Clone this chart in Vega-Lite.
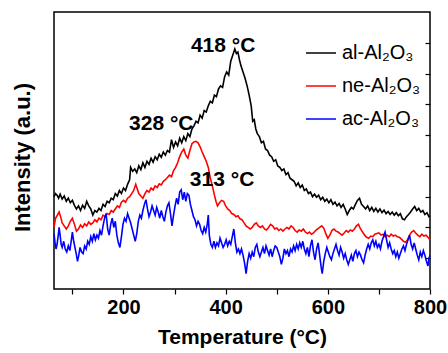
{
"$schema": "https://vega.github.io/schema/vega-lite/v6.json",
"width": 376, "height": 277,
"autosize": "none",
"padding": {"left": 54, "top": 12, "right": 18, "bottom": 64},
"config": {"font": "Liberation Sans", "view": {"stroke": "black", "strokeWidth": 1.5}},
"resolve": {"axis": {"y": "independent"}},
"layer": [
{
"data": {"values": [
{"s":"al","T":64,"I":3.0},{"s":"al","T":67,"I":3.1},{"s":"al","T":70,"I":3.05},{"s":"al","T":73,"I":2.95},{"s":"al","T":76,"I":3.08},{"s":"al","T":80,"I":2.92},{"s":"al","T":84,"I":3.02},{"s":"al","T":88,"I":2.85},{"s":"al","T":92,"I":2.95},{"s":"al","T":96,"I":2.8},{"s":"al","T":100,"I":2.88},{"s":"al","T":104,"I":2.72},{"s":"al","T":108,"I":2.6},{"s":"al","T":112,"I":2.7},{"s":"al","T":116,"I":2.55},{"s":"al","T":120,"I":2.72},{"s":"al","T":124,"I":2.62},{"s":"al","T":128,"I":2.85},{"s":"al","T":132,"I":2.7},{"s":"al","T":136,"I":2.6},{"s":"al","T":140,"I":2.4},{"s":"al","T":144,"I":2.55},{"s":"al","T":148,"I":2.5},{"s":"al","T":152,"I":2.62},{"s":"al","T":156,"I":2.55},{"s":"al","T":160,"I":2.75},{"s":"al","T":164,"I":2.68},{"s":"al","T":168,"I":2.85},{"s":"al","T":172,"I":2.8},{"s":"al","T":176,"I":2.95},{"s":"al","T":180,"I":2.9},{"s":"al","T":184,"I":3.1},{"s":"al","T":188,"I":3.02},{"s":"al","T":192,"I":3.2},{"s":"al","T":196,"I":3.1},{"s":"al","T":200,"I":3.28},{"s":"al","T":204,"I":3.2},{"s":"al","T":208,"I":3.4},{"s":"al","T":212,"I":3.55},{"s":"al","T":214,"I":3.95},{"s":"al","T":218,"I":3.82},{"s":"al","T":222,"I":3.9},{"s":"al","T":226,"I":3.78},{"s":"al","T":230,"I":4.0},{"s":"al","T":234,"I":3.88},{"s":"al","T":238,"I":4.1},{"s":"al","T":242,"I":3.95},{"s":"al","T":246,"I":4.15},{"s":"al","T":250,"I":4.05},{"s":"al","T":254,"I":4.25},{"s":"al","T":258,"I":4.12},{"s":"al","T":262,"I":4.3},{"s":"al","T":266,"I":4.2},{"s":"al","T":270,"I":4.38},{"s":"al","T":274,"I":4.28},{"s":"al","T":278,"I":4.45},{"s":"al","T":282,"I":4.35},{"s":"al","T":286,"I":4.5},{"s":"al","T":290,"I":4.45},{"s":"al","T":294,"I":4.85},{"s":"al","T":298,"I":4.6},{"s":"al","T":302,"I":4.78},{"s":"al","T":306,"I":4.65},{"s":"al","T":310,"I":4.9},{"s":"al","T":314,"I":4.75},{"s":"al","T":318,"I":4.95},{"s":"al","T":322,"I":4.82},{"s":"al","T":326,"I":5.05},{"s":"al","T":330,"I":4.95},{"s":"al","T":334,"I":5.2},{"s":"al","T":338,"I":5.3},{"s":"al","T":342,"I":5.45},{"s":"al","T":346,"I":5.4},{"s":"al","T":350,"I":5.65},{"s":"al","T":354,"I":5.55},{"s":"al","T":358,"I":5.8},{"s":"al","T":362,"I":5.75},{"s":"al","T":366,"I":5.95},{"s":"al","T":370,"I":6.1},{"s":"al","T":374,"I":6.05},{"s":"al","T":378,"I":6.3},{"s":"al","T":382,"I":6.25},{"s":"al","T":386,"I":6.5},{"s":"al","T":390,"I":6.6},{"s":"al","T":394,"I":6.55},{"s":"al","T":398,"I":6.9},{"s":"al","T":402,"I":7.05},{"s":"al","T":406,"I":6.95},{"s":"al","T":410,"I":7.4},{"s":"al","T":414,"I":7.6},{"s":"al","T":418,"I":7.8},{"s":"al","T":421,"I":7.65},{"s":"al","T":424,"I":7.7},{"s":"al","T":427,"I":7.45},{"s":"al","T":430,"I":7.25},{"s":"al","T":434,"I":7.05},{"s":"al","T":438,"I":6.85},{"s":"al","T":442,"I":6.6},{"s":"al","T":446,"I":6.3},{"s":"al","T":450,"I":5.95},{"s":"al","T":453,"I":5.45},{"s":"al","T":456,"I":5.5},{"s":"al","T":459,"I":5.2},{"s":"al","T":462,"I":5.05},{"s":"al","T":466,"I":4.95},{"s":"al","T":470,"I":4.75},{"s":"al","T":474,"I":4.8},{"s":"al","T":478,"I":4.55},{"s":"al","T":482,"I":4.5},{"s":"al","T":486,"I":4.35},{"s":"al","T":490,"I":4.3},{"s":"al","T":494,"I":4.15},{"s":"al","T":498,"I":4.2},{"s":"al","T":502,"I":4.0},{"s":"al","T":506,"I":3.95},{"s":"al","T":510,"I":3.85},{"s":"al","T":514,"I":3.9},{"s":"al","T":518,"I":3.72},{"s":"al","T":522,"I":3.78},{"s":"al","T":526,"I":3.6},{"s":"al","T":530,"I":3.55},{"s":"al","T":534,"I":3.5},{"s":"al","T":538,"I":3.35},{"s":"al","T":542,"I":3.45},{"s":"al","T":546,"I":3.3},{"s":"al","T":550,"I":3.38},{"s":"al","T":554,"I":3.2},{"s":"al","T":558,"I":3.25},{"s":"al","T":562,"I":3.1},{"s":"al","T":566,"I":3.15},{"s":"al","T":570,"I":3.0},{"s":"al","T":574,"I":3.08},{"s":"al","T":578,"I":2.98},{"s":"al","T":582,"I":3.05},{"s":"al","T":586,"I":2.9},{"s":"al","T":590,"I":2.98},{"s":"al","T":594,"I":2.85},{"s":"al","T":598,"I":2.92},{"s":"al","T":602,"I":2.8},{"s":"al","T":606,"I":2.9},{"s":"al","T":610,"I":2.75},{"s":"al","T":614,"I":2.82},{"s":"al","T":618,"I":2.7},{"s":"al","T":622,"I":2.78},{"s":"al","T":626,"I":2.65},{"s":"al","T":630,"I":2.75},{"s":"al","T":634,"I":2.6},{"s":"al","T":638,"I":2.42},{"s":"al","T":642,"I":2.55},{"s":"al","T":646,"I":2.65},{"s":"al","T":650,"I":2.6},{"s":"al","T":654,"I":2.75},{"s":"al","T":658,"I":2.88},{"s":"al","T":662,"I":2.95},{"s":"al","T":666,"I":2.75},{"s":"al","T":670,"I":2.68},{"s":"al","T":674,"I":2.6},{"s":"al","T":678,"I":2.7},{"s":"al","T":682,"I":2.55},{"s":"al","T":686,"I":2.65},{"s":"al","T":690,"I":2.52},{"s":"al","T":694,"I":2.62},{"s":"al","T":698,"I":2.5},{"s":"al","T":702,"I":2.6},{"s":"al","T":706,"I":2.48},{"s":"al","T":710,"I":2.56},{"s":"al","T":714,"I":2.45},{"s":"al","T":718,"I":2.52},{"s":"al","T":722,"I":2.42},{"s":"al","T":726,"I":2.5},{"s":"al","T":730,"I":2.4},{"s":"al","T":734,"I":2.48},{"s":"al","T":738,"I":2.38},{"s":"al","T":742,"I":2.45},{"s":"al","T":746,"I":2.28},{"s":"al","T":750,"I":2.25},{"s":"al","T":754,"I":2.35},{"s":"al","T":758,"I":2.42},{"s":"al","T":762,"I":2.5},{"s":"al","T":766,"I":2.6},{"s":"al","T":770,"I":2.68},{"s":"al","T":774,"I":2.55},{"s":"al","T":778,"I":2.62},{"s":"al","T":782,"I":2.5},{"s":"al","T":786,"I":2.55},{"s":"al","T":790,"I":2.42},{"s":"al","T":794,"I":2.48},{"s":"al","T":798,"I":2.35},{"s":"al","T":800,"I":2.38},
{"s":"ne","T":64,"I":2.0},{"s":"ne","T":67,"I":2.3},{"s":"ne","T":70,"I":2.38},{"s":"ne","T":74,"I":2.5},{"s":"ne","T":77,"I":2.35},{"s":"ne","T":80,"I":2.15},{"s":"ne","T":84,"I":2.05},{"s":"ne","T":88,"I":1.95},{"s":"ne","T":92,"I":2.05},{"s":"ne","T":96,"I":2.2},{"s":"ne","T":100,"I":2.3},{"s":"ne","T":104,"I":2.1},{"s":"ne","T":108,"I":1.88},{"s":"ne","T":112,"I":1.95},{"s":"ne","T":116,"I":2.08},{"s":"ne","T":120,"I":2.0},{"s":"ne","T":124,"I":2.12},{"s":"ne","T":128,"I":2.05},{"s":"ne","T":132,"I":2.18},{"s":"ne","T":136,"I":2.1},{"s":"ne","T":140,"I":2.15},{"s":"ne","T":144,"I":2.25},{"s":"ne","T":148,"I":2.18},{"s":"ne","T":152,"I":2.3},{"s":"ne","T":156,"I":2.25},{"s":"ne","T":160,"I":2.4},{"s":"ne","T":164,"I":2.35},{"s":"ne","T":168,"I":2.45},{"s":"ne","T":172,"I":2.42},{"s":"ne","T":176,"I":2.55},{"s":"ne","T":180,"I":2.5},{"s":"ne","T":184,"I":2.6},{"s":"ne","T":188,"I":2.7},{"s":"ne","T":192,"I":2.65},{"s":"ne","T":196,"I":2.82},{"s":"ne","T":200,"I":2.88},{"s":"ne","T":204,"I":2.82},{"s":"ne","T":208,"I":2.95},{"s":"ne","T":212,"I":3.0},{"s":"ne","T":216,"I":3.1},{"s":"ne","T":220,"I":3.2},{"s":"ne","T":224,"I":3.4},{"s":"ne","T":227,"I":3.25},{"s":"ne","T":230,"I":3.1},{"s":"ne","T":234,"I":3.02},{"s":"ne","T":238,"I":2.95},{"s":"ne","T":242,"I":3.1},{"s":"ne","T":246,"I":3.2},{"s":"ne","T":250,"I":3.15},{"s":"ne","T":254,"I":3.28},{"s":"ne","T":258,"I":3.22},{"s":"ne","T":262,"I":3.35},{"s":"ne","T":266,"I":3.3},{"s":"ne","T":270,"I":3.42},{"s":"ne","T":274,"I":3.38},{"s":"ne","T":278,"I":3.5},{"s":"ne","T":282,"I":3.55},{"s":"ne","T":286,"I":3.62},{"s":"ne","T":290,"I":3.7},{"s":"ne","T":294,"I":3.65},{"s":"ne","T":298,"I":3.85},{"s":"ne","T":302,"I":3.95},{"s":"ne","T":306,"I":4.1},{"s":"ne","T":310,"I":4.3},{"s":"ne","T":314,"I":4.45},{"s":"ne","T":318,"I":4.55},{"s":"ne","T":322,"I":4.35},{"s":"ne","T":326,"I":4.25},{"s":"ne","T":330,"I":4.5},{"s":"ne","T":334,"I":4.72},{"s":"ne","T":338,"I":4.78},{"s":"ne","T":342,"I":4.8},{"s":"ne","T":346,"I":4.75},{"s":"ne","T":350,"I":4.62},{"s":"ne","T":354,"I":4.45},{"s":"ne","T":358,"I":4.3},{"s":"ne","T":362,"I":4.15},{"s":"ne","T":366,"I":3.95},{"s":"ne","T":370,"I":3.6},{"s":"ne","T":374,"I":3.35},{"s":"ne","T":378,"I":3.05},{"s":"ne","T":381,"I":2.85},{"s":"ne","T":384,"I":2.7},{"s":"ne","T":388,"I":2.8},{"s":"ne","T":392,"I":2.88},{"s":"ne","T":396,"I":2.85},{"s":"ne","T":400,"I":2.7},{"s":"ne","T":404,"I":2.6},{"s":"ne","T":408,"I":2.55},{"s":"ne","T":412,"I":2.45},{"s":"ne","T":416,"I":2.42},{"s":"ne","T":420,"I":2.35},{"s":"ne","T":424,"I":2.38},{"s":"ne","T":428,"I":2.28},{"s":"ne","T":432,"I":2.25},{"s":"ne","T":436,"I":2.15},{"s":"ne","T":440,"I":2.05},{"s":"ne","T":444,"I":2.0},{"s":"ne","T":448,"I":1.95},{"s":"ne","T":452,"I":2.0},{"s":"ne","T":456,"I":2.1},{"s":"ne","T":460,"I":2.15},{"s":"ne","T":464,"I":2.05},{"s":"ne","T":468,"I":2.0},{"s":"ne","T":472,"I":2.05},{"s":"ne","T":476,"I":1.95},{"s":"ne","T":480,"I":1.92},{"s":"ne","T":484,"I":2.0},{"s":"ne","T":488,"I":2.1},{"s":"ne","T":492,"I":2.05},{"s":"ne","T":496,"I":1.95},{"s":"ne","T":500,"I":1.98},{"s":"ne","T":504,"I":1.9},{"s":"ne","T":508,"I":1.95},{"s":"ne","T":512,"I":1.88},{"s":"ne","T":516,"I":1.95},{"s":"ne","T":520,"I":2.0},{"s":"ne","T":524,"I":1.95},{"s":"ne","T":528,"I":2.05},{"s":"ne","T":532,"I":2.0},{"s":"ne","T":536,"I":1.9},{"s":"ne","T":540,"I":1.85},{"s":"ne","T":544,"I":1.92},{"s":"ne","T":548,"I":1.88},{"s":"ne","T":552,"I":1.95},{"s":"ne","T":556,"I":1.85},{"s":"ne","T":560,"I":1.8},{"s":"ne","T":564,"I":1.85},{"s":"ne","T":568,"I":1.78},{"s":"ne","T":572,"I":1.82},{"s":"ne","T":576,"I":1.9},{"s":"ne","T":580,"I":1.95},{"s":"ne","T":584,"I":2.0},{"s":"ne","T":588,"I":2.05},{"s":"ne","T":592,"I":1.98},{"s":"ne","T":596,"I":1.8},{"s":"ne","T":600,"I":1.65},{"s":"ne","T":604,"I":1.75},{"s":"ne","T":608,"I":1.9},{"s":"ne","T":612,"I":1.95},{"s":"ne","T":616,"I":1.88},{"s":"ne","T":620,"I":1.85},{"s":"ne","T":624,"I":1.8},{"s":"ne","T":628,"I":1.75},{"s":"ne","T":632,"I":1.82},{"s":"ne","T":636,"I":1.9},{"s":"ne","T":640,"I":1.85},{"s":"ne","T":644,"I":1.92},{"s":"ne","T":648,"I":1.88},{"s":"ne","T":652,"I":1.95},{"s":"ne","T":656,"I":2.05},{"s":"ne","T":660,"I":2.1},{"s":"ne","T":664,"I":1.95},{"s":"ne","T":668,"I":1.85},{"s":"ne","T":672,"I":1.75},{"s":"ne","T":676,"I":1.68},{"s":"ne","T":680,"I":1.65},{"s":"ne","T":684,"I":1.72},{"s":"ne","T":688,"I":1.7},{"s":"ne","T":692,"I":1.78},{"s":"ne","T":696,"I":1.8},{"s":"ne","T":700,"I":1.82},{"s":"ne","T":704,"I":1.75},{"s":"ne","T":708,"I":1.78},{"s":"ne","T":712,"I":1.7},{"s":"ne","T":716,"I":1.75},{"s":"ne","T":720,"I":1.7},{"s":"ne","T":724,"I":1.78},{"s":"ne","T":728,"I":1.72},{"s":"ne","T":732,"I":1.75},{"s":"ne","T":736,"I":1.7},{"s":"ne","T":740,"I":1.68},{"s":"ne","T":744,"I":1.62},{"s":"ne","T":748,"I":1.55},{"s":"ne","T":752,"I":1.52},{"s":"ne","T":756,"I":1.6},{"s":"ne","T":760,"I":1.75},{"s":"ne","T":764,"I":1.85},{"s":"ne","T":768,"I":1.9},{"s":"ne","T":772,"I":1.82},{"s":"ne","T":776,"I":1.75},{"s":"ne","T":780,"I":1.7},{"s":"ne","T":784,"I":1.78},{"s":"ne","T":788,"I":1.72},{"s":"ne","T":792,"I":1.75},{"s":"ne","T":796,"I":1.68},{"s":"ne","T":800,"I":1.6},
{"s":"ac","T":64,"I":1.8},{"s":"ac","T":66,"I":1.5},{"s":"ac","T":68,"I":1.3},{"s":"ac","T":70,"I":1.45},{"s":"ac","T":72,"I":1.7},{"s":"ac","T":74,"I":2.0},{"s":"ac","T":76,"I":1.75},{"s":"ac","T":78,"I":1.45},{"s":"ac","T":80,"I":1.35},{"s":"ac","T":83,"I":1.55},{"s":"ac","T":86,"I":1.3},{"s":"ac","T":89,"I":1.2},{"s":"ac","T":92,"I":1.4},{"s":"ac","T":95,"I":1.25},{"s":"ac","T":98,"I":1.6},{"s":"ac","T":100,"I":1.85},{"s":"ac","T":102,"I":1.6},{"s":"ac","T":105,"I":1.35},{"s":"ac","T":108,"I":1.1},{"s":"ac","T":110,"I":0.9},{"s":"ac","T":112,"I":1.05},{"s":"ac","T":115,"I":1.35},{"s":"ac","T":118,"I":1.2},{"s":"ac","T":121,"I":1.15},{"s":"ac","T":124,"I":1.4},{"s":"ac","T":127,"I":1.3},{"s":"ac","T":130,"I":1.55},{"s":"ac","T":133,"I":1.45},{"s":"ac","T":136,"I":1.7},{"s":"ac","T":139,"I":1.55},{"s":"ac","T":142,"I":1.8},{"s":"ac","T":145,"I":1.6},{"s":"ac","T":148,"I":1.75},{"s":"ac","T":151,"I":1.65},{"s":"ac","T":154,"I":1.9},{"s":"ac","T":157,"I":1.75},{"s":"ac","T":160,"I":2.05},{"s":"ac","T":163,"I":2.3},{"s":"ac","T":166,"I":2.45},{"s":"ac","T":169,"I":1.95},{"s":"ac","T":172,"I":1.75},{"s":"ac","T":175,"I":2.1},{"s":"ac","T":178,"I":2.3},{"s":"ac","T":181,"I":2.0},{"s":"ac","T":184,"I":2.2},{"s":"ac","T":187,"I":1.75},{"s":"ac","T":190,"I":1.5},{"s":"ac","T":193,"I":1.35},{"s":"ac","T":196,"I":1.7},{"s":"ac","T":199,"I":2.1},{"s":"ac","T":202,"I":2.3},{"s":"ac","T":205,"I":2.2},{"s":"ac","T":208,"I":2.45},{"s":"ac","T":211,"I":2.3},{"s":"ac","T":214,"I":2.15},{"s":"ac","T":217,"I":1.95},{"s":"ac","T":220,"I":1.75},{"s":"ac","T":223,"I":1.55},{"s":"ac","T":226,"I":1.8},{"s":"ac","T":229,"I":2.2},{"s":"ac","T":232,"I":2.4},{"s":"ac","T":235,"I":2.3},{"s":"ac","T":238,"I":2.55},{"s":"ac","T":241,"I":2.75},{"s":"ac","T":244,"I":2.9},{"s":"ac","T":247,"I":2.6},{"s":"ac","T":250,"I":2.35},{"s":"ac","T":253,"I":2.5},{"s":"ac","T":256,"I":2.7},{"s":"ac","T":259,"I":2.55},{"s":"ac","T":262,"I":2.4},{"s":"ac","T":265,"I":2.65},{"s":"ac","T":268,"I":2.5},{"s":"ac","T":271,"I":2.3},{"s":"ac","T":274,"I":2.55},{"s":"ac","T":277,"I":2.35},{"s":"ac","T":280,"I":2.2},{"s":"ac","T":283,"I":2.5},{"s":"ac","T":286,"I":2.7},{"s":"ac","T":289,"I":2.8},{"s":"ac","T":292,"I":2.45},{"s":"ac","T":295,"I":2.05},{"s":"ac","T":298,"I":2.4},{"s":"ac","T":301,"I":2.7},{"s":"ac","T":304,"I":2.95},{"s":"ac","T":307,"I":2.75},{"s":"ac","T":310,"I":3.15},{"s":"ac","T":313,"I":3.22},{"s":"ac","T":316,"I":2.9},{"s":"ac","T":319,"I":3.15},{"s":"ac","T":322,"I":2.85},{"s":"ac","T":325,"I":3.1},{"s":"ac","T":328,"I":3.05},{"s":"ac","T":331,"I":2.75},{"s":"ac","T":334,"I":2.55},{"s":"ac","T":337,"I":2.35},{"s":"ac","T":340,"I":2.25},{"s":"ac","T":343,"I":2.05},{"s":"ac","T":346,"I":2.2},{"s":"ac","T":349,"I":2.1},{"s":"ac","T":352,"I":1.9},{"s":"ac","T":355,"I":1.8},{"s":"ac","T":358,"I":2.0},{"s":"ac","T":361,"I":1.85},{"s":"ac","T":364,"I":2.1},{"s":"ac","T":366,"I":2.4},{"s":"ac","T":368,"I":1.75},{"s":"ac","T":371,"I":1.45},{"s":"ac","T":374,"I":1.35},{"s":"ac","T":377,"I":1.55},{"s":"ac","T":380,"I":1.35},{"s":"ac","T":383,"I":1.5},{"s":"ac","T":386,"I":1.4},{"s":"ac","T":389,"I":1.65},{"s":"ac","T":392,"I":1.5},{"s":"ac","T":395,"I":1.35},{"s":"ac","T":398,"I":1.45},{"s":"ac","T":401,"I":1.6},{"s":"ac","T":404,"I":1.4},{"s":"ac","T":407,"I":1.55},{"s":"ac","T":410,"I":1.45},{"s":"ac","T":413,"I":1.7},{"s":"ac","T":416,"I":1.95},{"s":"ac","T":419,"I":1.5},{"s":"ac","T":422,"I":1.2},{"s":"ac","T":425,"I":1.3},{"s":"ac","T":428,"I":1.15},{"s":"ac","T":431,"I":1.3},{"s":"ac","T":434,"I":1.1},{"s":"ac","T":437,"I":0.85},{"s":"ac","T":440,"I":0.5},{"s":"ac","T":443,"I":0.9},{"s":"ac","T":446,"I":1.15},{"s":"ac","T":449,"I":1.0},{"s":"ac","T":452,"I":1.2},{"s":"ac","T":455,"I":1.05},{"s":"ac","T":458,"I":1.35},{"s":"ac","T":461,"I":1.45},{"s":"ac","T":464,"I":1.2},{"s":"ac","T":467,"I":1.05},{"s":"ac","T":470,"I":1.2},{"s":"ac","T":473,"I":1.35},{"s":"ac","T":476,"I":1.15},{"s":"ac","T":479,"I":1.4},{"s":"ac","T":482,"I":1.25},{"s":"ac","T":485,"I":1.1},{"s":"ac","T":488,"I":1.3},{"s":"ac","T":491,"I":1.05},{"s":"ac","T":494,"I":1.25},{"s":"ac","T":497,"I":1.4},{"s":"ac","T":500,"I":1.35},{"s":"ac","T":503,"I":1.2},{"s":"ac","T":506,"I":1.05},{"s":"ac","T":509,"I":0.8},{"s":"ac","T":512,"I":1.0},{"s":"ac","T":515,"I":1.3},{"s":"ac","T":518,"I":1.15},{"s":"ac","T":521,"I":1.25},{"s":"ac","T":524,"I":1.05},{"s":"ac","T":527,"I":1.3},{"s":"ac","T":530,"I":1.2},{"s":"ac","T":533,"I":1.4},{"s":"ac","T":536,"I":1.25},{"s":"ac","T":539,"I":1.45},{"s":"ac","T":542,"I":1.3},{"s":"ac","T":545,"I":1.5},{"s":"ac","T":548,"I":1.35},{"s":"ac","T":551,"I":1.55},{"s":"ac","T":554,"I":1.3},{"s":"ac","T":557,"I":1.15},{"s":"ac","T":560,"I":1.35},{"s":"ac","T":563,"I":1.05},{"s":"ac","T":566,"I":1.4},{"s":"ac","T":569,"I":1.6},{"s":"ac","T":572,"I":1.2},{"s":"ac","T":575,"I":0.95},{"s":"ac","T":578,"I":1.3},{"s":"ac","T":581,"I":1.5},{"s":"ac","T":584,"I":1.1},{"s":"ac","T":587,"I":0.7},{"s":"ac","T":589,"I":0.5},{"s":"ac","T":592,"I":0.9},{"s":"ac","T":595,"I":1.15},{"s":"ac","T":598,"I":1.35},{"s":"ac","T":601,"I":1.2},{"s":"ac","T":604,"I":1.05},{"s":"ac","T":607,"I":0.95},{"s":"ac","T":610,"I":1.15},{"s":"ac","T":613,"I":1.3},{"s":"ac","T":616,"I":1.45},{"s":"ac","T":619,"I":1.25},{"s":"ac","T":622,"I":1.1},{"s":"ac","T":625,"I":1.35},{"s":"ac","T":628,"I":1.2},{"s":"ac","T":631,"I":1.0},{"s":"ac","T":634,"I":1.15},{"s":"ac","T":637,"I":0.95},{"s":"ac","T":640,"I":0.8},{"s":"ac","T":643,"I":0.95},{"s":"ac","T":646,"I":1.1},{"s":"ac","T":649,"I":0.9},{"s":"ac","T":652,"I":1.15},{"s":"ac","T":655,"I":1.25},{"s":"ac","T":658,"I":1.05},{"s":"ac","T":661,"I":1.2},{"s":"ac","T":664,"I":1.1},{"s":"ac","T":667,"I":0.95},{"s":"ac","T":670,"I":0.85},{"s":"ac","T":673,"I":1.1},{"s":"ac","T":676,"I":1.3},{"s":"ac","T":679,"I":1.45},{"s":"ac","T":682,"I":1.3},{"s":"ac","T":685,"I":1.5},{"s":"ac","T":688,"I":1.6},{"s":"ac","T":691,"I":1.4},{"s":"ac","T":694,"I":1.55},{"s":"ac","T":697,"I":1.35},{"s":"ac","T":700,"I":1.45},{"s":"ac","T":703,"I":1.3},{"s":"ac","T":706,"I":1.55},{"s":"ac","T":709,"I":1.7},{"s":"ac","T":712,"I":1.85},{"s":"ac","T":715,"I":1.6},{"s":"ac","T":718,"I":1.35},{"s":"ac","T":721,"I":1.5},{"s":"ac","T":724,"I":1.3},{"s":"ac","T":727,"I":1.15},{"s":"ac","T":730,"I":1.25},{"s":"ac","T":733,"I":1.05},{"s":"ac","T":736,"I":1.2},{"s":"ac","T":739,"I":1.0},{"s":"ac","T":742,"I":1.15},{"s":"ac","T":745,"I":1.3},{"s":"ac","T":748,"I":1.4},{"s":"ac","T":751,"I":1.25},{"s":"ac","T":754,"I":1.45},{"s":"ac","T":757,"I":1.6},{"s":"ac","T":760,"I":1.75},{"s":"ac","T":763,"I":1.45},{"s":"ac","T":766,"I":1.3},{"s":"ac","T":769,"I":1.5},{"s":"ac","T":772,"I":1.3},{"s":"ac","T":775,"I":1.1},{"s":"ac","T":778,"I":0.95},{"s":"ac","T":781,"I":1.2},{"s":"ac","T":784,"I":1.05},{"s":"ac","T":787,"I":1.25},{"s":"ac","T":790,"I":1.1},{"s":"ac","T":793,"I":0.9},{"s":"ac","T":796,"I":0.75},{"s":"ac","T":798,"I":1.0},{"s":"ac","T":800,"I":1.1}
]},
"mark": {"type": "line", "strokeWidth": 1.6},
"encoding": {
"x": {"field": "T", "type": "quantitative", "scale": {"domain": [64, 800], "nice": false, "zero": false},
 "axis": {"title": "Temperature (°C)", "values": [100,200,300,400,500,600,700,800], "labelExpr": "datum.value % 200 == 0 ? datum.label : ''", "labelFontSize": 20, "labelFontWeight": "bold", "labelColor": "black", "labelFlush": false, "labelOverlap": false, "labelBound": false, "labelPadding": 3, "tickColor": "black", "tickSize": 5, "tickWidth": 1.2, "grid": false, "domain": false, "titleFontSize": 21, "titleFontWeight": "bold", "titleColor": "black", "titlePadding": 9}},
"y": {"field": "I", "type": "quantitative", "scale": {"domain": [0, 9], "nice": false},
 "axis": {"title": "Intensity (a.u.)", "labels": false, "ticks": false, "domain": false, "grid": false, "titleFontSize": 22, "titleFontWeight": "bold", "titleColor": "black", "titlePadding": 20, "titleY": 145}},
"color": {"field": "s", "type": "nominal", "sort": null,
 "scale": {"domain": ["al", "ne", "ac"], "range": ["#000000", "#ff0000", "#0000ff"]},
 "legend": {"title": null, "orient": "none", "legendX": 251, "legendY": 25, "padding": 0, "symbolType": "stroke", "symbolSize": 900, "symbolStrokeWidth": 1.5, "labelFontSize": 20, "labelColor": "black", "labelOffset": 5, "rowPadding": 7, "labelExpr": "datum.label == 'al' ? 'al-Al₂O₃' : datum.label == 'ne' ? 'ne-Al₂O₃' : 'ac-Al₂O₃'"}}
}
},
{
"data": {"values": [
{"T": 395, "I": 7.9, "label": "418 °C"},
{"T": 274, "I": 5.36, "label": "328 °C"},
{"T": 393, "I": 3.54, "label": "313 °C"}
]},
"mark": {"type": "text", "fontSize": 21, "fontWeight": "bold", "color": "black", "baseline": "middle", "align": "center"},
"encoding": {
"x": {"field": "T", "type": "quantitative"},
"y": {"field": "I", "type": "quantitative", "axis": {"orient": "right", "title": null, "labels": false, "domain": false, "grid": false, "values": [1,2,3,4,5,6,7,8], "tickSize": -5, "tickColor": "black", "tickWidth": 1.2}},
"text": {"field": "label"}
}
}
]
}
